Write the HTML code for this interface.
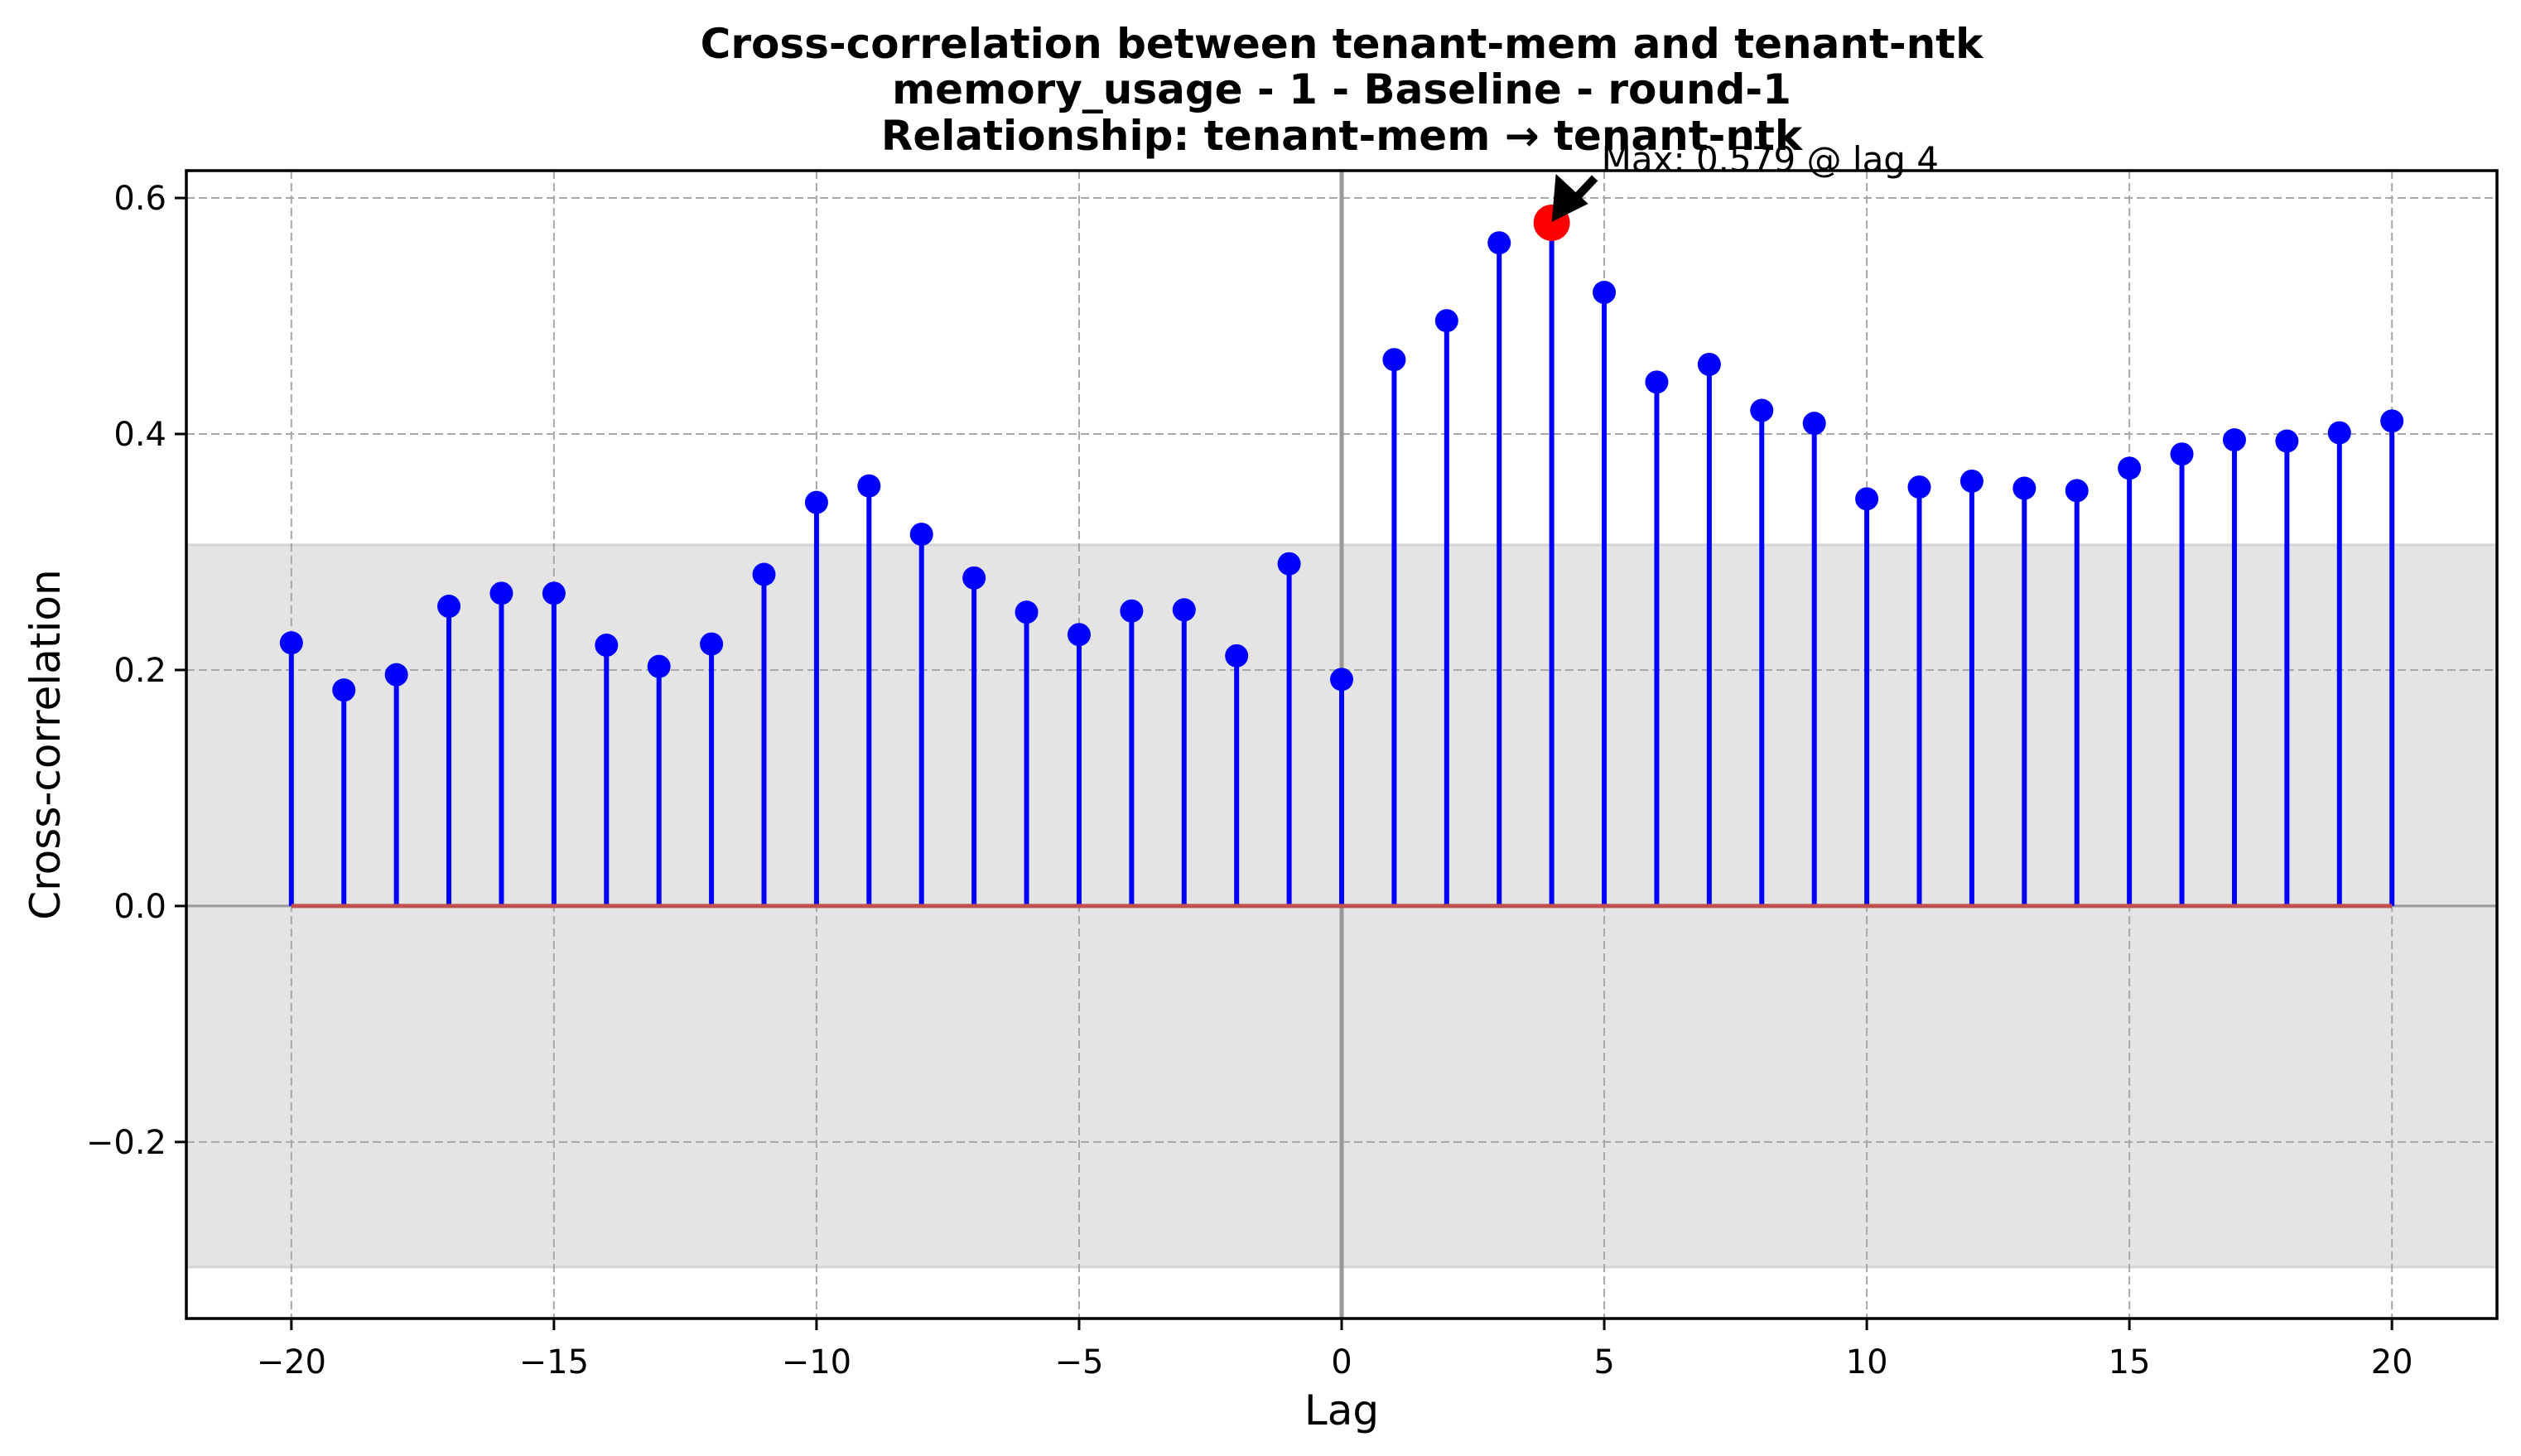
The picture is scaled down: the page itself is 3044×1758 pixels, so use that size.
<!DOCTYPE html>
<html><head><meta charset="utf-8"><style>html,body{margin:0;padding:0;background:#fff}svg{display:block}text{font-family:"DejaVu Sans","Liberation Sans",sans-serif}</style></head>
<body>
<svg id="chart" width="3044" height="1758" viewBox="0 0 3044 1758" xmlns="http://www.w3.org/2000/svg">
<g id="title" font-weight="bold" font-size="50" text-anchor="middle" fill="#000">
<text x="1620" y="70">Cross-correlation between tenant-mem and tenant-ntk</text>
<text x="1620" y="125">memory_usage - 1 - Baseline - round-1</text>
<text x="1620" y="181">Relationship: tenant-mem → tenant-ntk</text>
</g>
<g id="plot"></g>
</svg>
<script>
const lags = [-20,-19,-18,-17,-16,-15,-14,-13,-12,-11,-10,-9,-8,-7,-6,-5,-4,-3,-2,-1,0,1,2,3,4,5,6,7,8,9,10,11,12,13,14,15,16,17,18,19,20];
const corr = [0.223,0.183,0.196,0.254,0.265,0.265,0.221,0.203,0.222,0.281,0.342,0.356,0.315,0.278,0.249,0.230,0.250,0.251,0.212,0.290,0.192,0.463,0.496,0.562,0.579,0.520,0.444,0.459,0.420,0.409,0.345,0.355,0.360,0.354,0.352,0.371,0.383,0.395,0.394,0.401,0.411];
const xTicks = [-20,-15,-10,-5,0,5,10,15,20];
const yTicks = [-0.2,0,0.2,0.4,0.6];
const confBand = [-0.306,0.306];

const L=225,R=3015,T=206,B=1592;
const xMin=-22,xMax=22,yMin=-0.3496,yMax=0.6232;
const X=v=>L+(v-xMin)/(xMax-xMin)*(R-L);
const Y=v=>B-(v-yMin)/(yMax-yMin)*(B-T);
const NS='http://www.w3.org/2000/svg';
const g=document.getElementById('plot');
function mk(tag,attrs,parent){const e=document.createElementNS(NS,tag);for(const k in attrs)e.setAttribute(k,attrs[k]);(parent||g).appendChild(e);return e;}

let e=mk('rect',{x:L,y:Y(confBand[1]),width:R-L,height:Y(confBand[0])-Y(confBand[1]),fill:'#e4e4e4',stroke:'#d4d4d4','stroke-width':3});



xTicks.forEach(t=>{
 let l=mk('line',{x1:X(t),x2:X(t),y1:T,y2:B,stroke:'#a8a8a8','stroke-width':2,'stroke-dasharray':'10,5'});
 
 
 let k=mk('line',{x1:X(t),x2:X(t),y1:B,y2:B+14,stroke:'#000','stroke-width':3});
 
 
 let s=mk('text',{x:X(t),y:B+66,'font-size':40,'text-anchor':'middle',fill:'#000'});
 s.textContent=(t<0?'\u2212'+(-t):''+t);
 
 
});
yTicks.forEach(t=>{
 let l=mk('line',{x1:L,x2:R,y1:Y(t),y2:Y(t),stroke:'#a8a8a8','stroke-width':2,'stroke-dasharray':'10,5'});
 
 
 let k=mk('line',{x1:L-14,x2:L,y1:Y(t),y2:Y(t),stroke:'#000','stroke-width':3});
 
 
 let s=mk('text',{x:L-24,y:Y(t)+14,'font-size':40,'text-anchor':'end',fill:'#000'});
 s.textContent=(t<0?'\u2212'+(-t).toFixed(1):t.toFixed(1));
 
 
});

e=mk('line',{x1:X(0),x2:X(0),y1:T,y2:B,stroke:'#999','stroke-width':5});


e=mk('line',{x1:L,x2:R,y1:Y(0),y2:Y(0),stroke:'#999','stroke-width':3});



lags.forEach((lag,i)=>{
 let s=mk('line',{x1:X(lag),x2:X(lag),y1:Y(0),y2:Y(corr[i]),stroke:'#0000ff','stroke-width':6});
 
 
});
e=mk('line',{x1:X(lags[0]),x2:X(lags[lags.length-1]),y1:Y(0),y2:Y(0),stroke:'#c0504d','stroke-width':5});


lags.forEach((lag,i)=>{
 let c=mk('circle',{cx:X(lag),cy:Y(corr[i]),r:14,fill:'#0000ff'});
 
 
});
let mi=0;corr.forEach((v,i)=>{if(v>corr[mi])mi=i;});
e=mk('circle',{cx:X(lags[mi]),cy:Y(corr[mi]),r:22,fill:'#ff0000'});



const tx=X(lags[mi]),ty=Y(corr[mi]);
const ax=tx+52,ay=ty-54;
e=mk('line',{x1:ax,y1:ay,x2:tx+20,y2:ty-20,stroke:'#000','stroke-width':10});


e=mk('polygon',{points:`${tx},${ty-1} ${tx+5},${ty-59} ${tx+44},${ty-23}`,fill:'#000'});


e=mk('text',{x:ax+8,y:ay-8,'font-size':42,fill:'#000'});
e.textContent='Max: '+corr[mi].toFixed(3)+' @ lag '+lags[mi];



e=mk('rect',{x:L,y:T,width:R-L,height:B-T,fill:'none',stroke:'#000','stroke-width':3.5});



e=mk('text',{x:(L+R)/2,y:1720,'font-size':50,'text-anchor':'middle',fill:'#000'});
e.textContent='Lag';


e=mk('text',{x:0,y:0,'font-size':50,'text-anchor':'middle',fill:'#000',transform:`translate(72,${(T+B)/2}) rotate(-90)`});
e.textContent='Cross-correlation';


</script>
</body></html>
